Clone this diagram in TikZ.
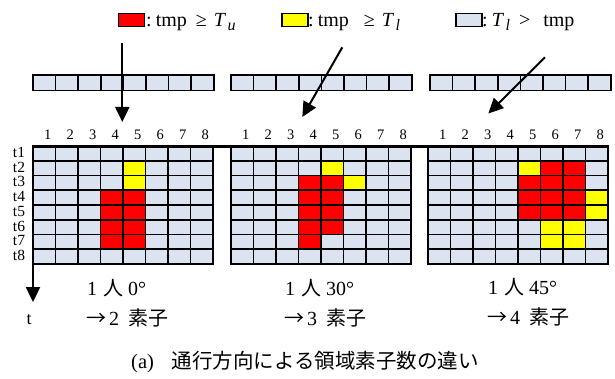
\documentclass[tikz,border=0pt]{standalone}
\usepackage{fontspec}
\setmainfont{Liberation Serif}
\newfontfamily\jpgothic{Noto Sans CJK JP}
\usetikzlibrary{arrows.meta}

\definecolor{cellblue}{RGB}{219,227,240}
\definecolor{hotred}{RGB}{255,0,0}
\definecolor{warmyellow}{RGB}{255,255,0}

% one cell of a grid: left edge of grid, column, row, fill colour
\newcommand\gridcell[4]{%
  \path[cellbox, fill=#4] ({#1+(#2-1)*22.5},{146+(#3-1)*14.75}) rectangle ++(22.5,14.75);}
% threshold symbol with subscript, set in text italics
\newcommand\thr[1]{\textit{T}\hspace{1.5pt}\raisebox{-4pt}{\fontsize{16}{18}\selectfont\textit{#1}}}

\begin{document}
\begin{tikzpicture}[x=1pt, y=-1pt,
  cellbox/.style={draw=black, line width=1.6pt},
  barcell/.style={draw=black, line width=1.6pt, fill=cellblue},
  legbox/.style={draw=black, line width=1.5pt, minimum width=26pt, minimum height=13pt, inner sep=0pt},
  legtext/.style={anchor=base west, inner sep=0pt, font=\fontsize{20}{22}\selectfont},
  numlbl/.style={inner sep=0pt, font=\fontsize{14.5}{16}\selectfont},
  motion/.style={line width=2pt, -{Triangle[length=15pt, width=14pt]}},
  axisline/.style={line width=2.4pt},
  panellbl/.style={anchor=west, inner sep=0pt, font=\fontsize{20}{22}\selectfont},
]
\useasboundingbox (0,0) rectangle (615,379);

% legend
\node[legbox, fill=hotred] (kred) at (131.5,20) {};
\node[legtext] (kredt) at (146,27) {:\hspace{4pt}tmp\hspace{9pt}≥\hspace{7pt}\thr{u}};
\node[legbox, fill=warmyellow] (kyel) at (295,20) {};
\node[legtext] (kyelt) at (308,27) {:\hspace{4pt}tmp\hspace{15pt}≥\hspace{7pt}\thr{l}};
\node[legbox, fill=cellblue] (kblu) at (469,20) {};
\node[legtext] (kblut) at (482,27) {:\hspace{4pt}\thr{l}\hspace{9pt}>\hspace{13pt}tmp};

% sensor bars
\foreach \bx in {33,231,430}
  \foreach \c in {1,...,8}
    \path[barcell] ({\bx+(\c-1)*22.6},75) rectangle ++(22.6,15.5);

% motion directions across the bars
\coordinate (a1s) at (122.3,42.7);  \coordinate (a1e) at (122.3,122);
\coordinate (a2s) at (342.3,47.3);  \coordinate (a2e) at (302.3,117);
\coordinate (a3s) at (545,57.3);    \coordinate (a3e) at (488.3,113.5);
\draw[motion] (a1s) -- (a1e);
\draw[motion] (a2s) -- (a2e);
\draw[motion] (a3s) -- (a3e);

% element grids over time
\foreach \gx in {33,231,428}
  \foreach \c in {1,...,8}
    \foreach \r in {1,...,8}
      {\gridcell{\gx}{\c}{\r}{cellblue}}

% walking at 0 degrees
\foreach \c/\r in {5/2,5/3} {\gridcell{33}{\c}{\r}{warmyellow}}
\foreach \c/\r in {4/4,5/4,4/5,5/5,4/6,5/6,4/7,5/7} {\gridcell{33}{\c}{\r}{hotred}}
% walking at 30 degrees
\foreach \c/\r in {5/2,6/3} {\gridcell{231}{\c}{\r}{warmyellow}}
\foreach \c/\r in {4/3,5/3,4/4,5/4,4/5,5/5,4/6,5/6,4/7} {\gridcell{231}{\c}{\r}{hotred}}
% walking at 45 degrees
\foreach \c/\r in {5/2,8/4,8/5,6/6,7/6,6/7,7/7} {\gridcell{428}{\c}{\r}{warmyellow}}
\foreach \c/\r in {6/2,7/2,5/3,6/3,7/3,5/4,6/4,7/4,5/5,6/5,7/5} {\gridcell{428}{\c}{\r}{hotred}}

% column numbers
\foreach \gx in {33,231,428}
  \foreach \c in {1,...,8}
    \node[numlbl] at ({\gx+(\c-0.5)*22.5+3.5},135) {\c};

% row (time) labels
\foreach \r in {1,...,8}
  \node[numlbl, font=\fontsize{15.5}{17}\selectfont] at (19,{146+(\r-0.5)*14.75-1}) {t\r};

% time axis
\coordinate (origin) at (33,146.5);
\coordinate (xend) at (608,146.5);
\coordinate (tend) at (33,302);
\draw[axisline, line cap=rect] (origin) -- (xend);
\draw[axisline, -{Triangle[length=15pt, width=14pt]}] (origin) -- (tend);
\node[numlbl, font=\fontsize{18}{20}\selectfont] (tlbl) at (29,320) {t};

% panel labels
\node[panellbl] (p1a) at (87,288) {1\hspace{6pt}{\jpgothic 人}\hspace{5pt}0°};
\node[panellbl] (p1b) at (86,318) {{\jpgothic →}\hspace{3pt}2\hspace{9pt}{\jpgothic 素子}};
\node[panellbl] (p2a) at (285,288) {1\hspace{6pt}{\jpgothic 人}\hspace{5pt}30°};
\node[panellbl] (p2b) at (284,318) {{\jpgothic →}\hspace{3pt}3\hspace{9pt}{\jpgothic 素子}};
\node[panellbl] (p3a) at (488,287) {1\hspace{6pt}{\jpgothic 人}\hspace{5pt}45°};
\node[panellbl] (p3b) at (487,317) {{\jpgothic →}\hspace{3pt}4\hspace{9pt}{\jpgothic 素子}};

% caption
\node[inner sep=0pt, font=\fontsize{20.5}{22}\selectfont] (cap) at (305,362)
  {(a)\hspace{18pt}{\jpgothic 通行方向による領域素子数の違い}};
\end{tikzpicture}
\end{document}
